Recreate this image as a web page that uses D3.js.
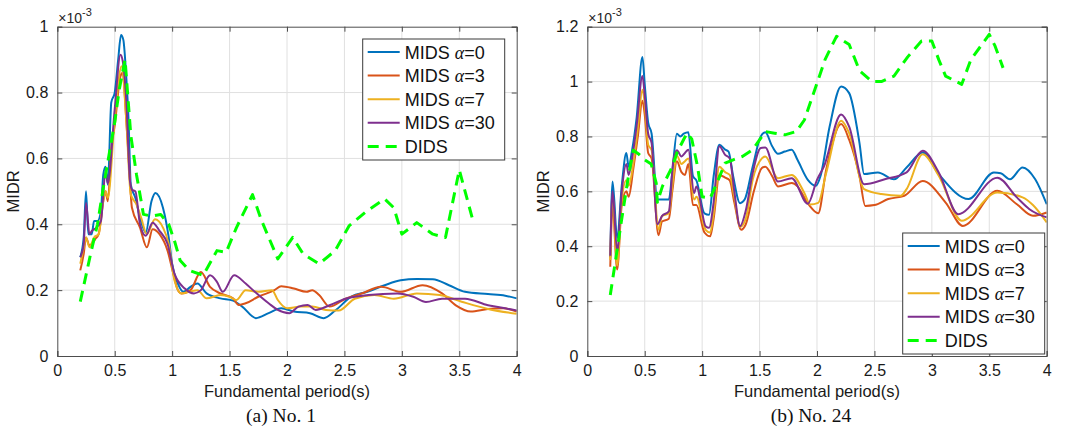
<!DOCTYPE html>
<html>
<head>
<meta charset="utf-8">
<script src="https://cdn.jsdelivr.net/npm/d3@7"></script>
<style>
  body { margin: 0; background: #fff; }
  svg { display: block; }
</style>
</head>
<body>
<div id="chart"></div>
<script>
// periods (s) and MIDR values (x10^-3)
const seriesNames = ['MIDS \u03b1=0', 'MIDS \u03b1=3', 'MIDS \u03b1=7', 'MIDS \u03b1=30', 'DIDS'];

// (a) No. 1
const a_alpha0 = [[0.2,0.30],[0.23,0.36],[0.25,0.50],[0.27,0.37],[0.3,0.37],[0.32,0.41],[0.35,0.41],[0.38,0.44],[0.40,0.55],[0.42,0.575],[0.44,0.52],[0.47,0.77],[0.5,0.80],[0.53,0.90],[0.555,0.975],[0.575,0.96],[0.6,0.85],[0.62,0.72],[0.64,0.52],[0.68,0.48],[0.72,0.42],[0.77,0.375],[0.82,0.47],[0.855,0.495],[0.92,0.45],[0.97,0.36],[1.0,0.28],[1.05,0.22],[1.1,0.195],[1.16,0.21],[1.22,0.22],[1.3,0.19],[1.42,0.175],[1.53,0.168],[1.61,0.15],[1.73,0.115],[1.84,0.13],[1.95,0.145],[2.06,0.135],[2.2,0.13],[2.32,0.115],[2.42,0.138],[2.56,0.18],[2.7,0.195],[2.85,0.215],[2.99,0.23],[3.13,0.234],[3.27,0.233],[3.41,0.215],[3.55,0.195],[3.75,0.188],[3.9,0.183],[4.0,0.175]];
const a_alpha3 = [[0.2,0.26],[0.23,0.31],[0.25,0.36],[0.28,0.335],[0.3,0.34],[0.33,0.355],[0.36,0.37],[0.4,0.47],[0.42,0.50],[0.44,0.47],[0.47,0.63],[0.5,0.70],[0.55,0.85],[0.57,0.86],[0.6,0.72],[0.625,0.58],[0.65,0.45],[0.72,0.39],[0.78,0.33],[0.83,0.385],[0.89,0.37],[0.96,0.32],[1.01,0.25],[1.05,0.20],[1.08,0.19],[1.16,0.20],[1.25,0.255],[1.33,0.21],[1.42,0.19],[1.53,0.175],[1.58,0.155],[1.64,0.16],[1.75,0.18],[1.89,0.20],[1.95,0.212],[2.06,0.205],[2.17,0.195],[2.22,0.2],[2.28,0.185],[2.37,0.15],[2.51,0.174],[2.65,0.19],[2.82,0.21],[2.99,0.195],[3.18,0.215],[3.35,0.19],[3.47,0.154],[3.6,0.135],[3.75,0.143],[3.88,0.145],[4.0,0.135]];
const a_alpha7 = [[0.2,0.28],[0.23,0.33],[0.25,0.36],[0.28,0.33],[0.32,0.36],[0.36,0.37],[0.4,0.47],[0.42,0.50],[0.44,0.48],[0.5,0.72],[0.56,0.88],[0.6,0.72],[0.64,0.49],[0.69,0.46],[0.73,0.42],[0.78,0.37],[0.85,0.415],[0.92,0.39],[0.97,0.34],[1.02,0.23],[1.08,0.19],[1.15,0.195],[1.22,0.20],[1.3,0.175],[1.42,0.185],[1.5,0.18],[1.56,0.17],[1.64,0.2],[1.75,0.195],[1.87,0.2],[1.92,0.17],[2.0,0.145],[2.12,0.15],[2.22,0.15],[2.34,0.14],[2.45,0.138],[2.59,0.174],[2.76,0.185],[2.93,0.174],[3.13,0.19],[3.33,0.185],[3.52,0.165],[3.75,0.143],[4.0,0.128]];
const a_alpha30 = [[0.2,0.30],[0.23,0.34],[0.25,0.465],[0.28,0.37],[0.3,0.38],[0.34,0.39],[0.38,0.41],[0.42,0.56],[0.44,0.525],[0.5,0.75],[0.55,0.915],[0.57,0.895],[0.6,0.78],[0.633,0.53],[0.65,0.505],[0.68,0.50],[0.72,0.40],[0.77,0.365],[0.83,0.405],[0.89,0.38],[0.96,0.34],[1.02,0.25],[1.11,0.205],[1.19,0.19],[1.25,0.2],[1.33,0.245],[1.39,0.225],[1.44,0.195],[1.54,0.245],[1.64,0.22],[1.72,0.195],[1.84,0.16],[1.92,0.14],[2.02,0.13],[2.1,0.15],[2.18,0.155],[2.25,0.14],[2.37,0.154],[2.51,0.174],[2.71,0.185],[2.96,0.19],[3.1,0.18],[3.21,0.164],[3.35,0.174],[3.55,0.174],[3.75,0.154],[3.9,0.145],[4.0,0.138]];
const a_dids = [[0.2,0.165],[0.29,0.31],[0.35,0.40],[0.40,0.51],[0.44,0.59],[0.5,0.71],[0.54,0.81],[0.59,0.90],[0.64,0.67],[0.69,0.55],[0.75,0.43],[0.82,0.425],[0.9,0.43],[0.97,0.40],[1.02,0.35],[1.07,0.29],[1.15,0.26],[1.27,0.245],[1.39,0.32],[1.47,0.315],[1.56,0.39],[1.7,0.49],[1.78,0.41],[1.92,0.295],[2.05,0.36],[2.14,0.31],[2.28,0.28],[2.42,0.32],[2.54,0.395],[2.68,0.436],[2.85,0.477],[2.93,0.45],[3.0,0.37],[3.13,0.405],[3.27,0.37],[3.38,0.36],[3.5,0.565],[3.62,0.41]];

// (b) No. 24
const b_alpha0 = [[0.2,0.36],[0.22,0.636],[0.26,0.43],[0.3,0.62],[0.34,0.74],[0.36,0.69],[0.39,0.75],[0.43,0.87],[0.48,1.09],[0.5,0.99],[0.53,0.85],[0.56,0.81],[0.61,0.57],[0.65,0.57],[0.71,0.57],[0.74,0.67],[0.78,0.81],[0.81,0.80],[0.84,0.81],[0.88,0.815],[0.92,0.655],[0.95,0.64],[1.02,0.52],[1.06,0.515],[1.1,0.655],[1.15,0.77],[1.2,0.752],[1.23,0.745],[1.27,0.655],[1.33,0.557],[1.37,0.57],[1.44,0.69],[1.51,0.80],[1.55,0.815],[1.61,0.764],[1.66,0.737],[1.72,0.745],[1.78,0.752],[1.83,0.715],[1.92,0.642],[1.99,0.62],[2.03,0.655],[2.11,0.836],[2.21,0.982],[2.28,0.958],[2.37,0.776],[2.41,0.663],[2.53,0.669],[2.67,0.644],[2.78,0.687],[2.92,0.742],[3.06,0.663],[3.32,0.572],[3.54,0.669],[3.6,0.666],[3.68,0.644],[3.79,0.687],[3.9,0.644],[4.0,0.553]];
const b_alpha3 = [[0.2,0.325],[0.22,0.55],[0.26,0.315],[0.3,0.55],[0.34,0.60],[0.36,0.58],[0.4,0.68],[0.44,0.80],[0.48,0.93],[0.5,0.88],[0.53,0.74],[0.56,0.72],[0.62,0.44],[0.65,0.49],[0.71,0.50],[0.74,0.60],[0.78,0.71],[0.82,0.67],[0.85,0.66],[0.88,0.70],[0.92,0.55],[0.95,0.55],[1.02,0.45],[1.07,0.436],[1.1,0.50],[1.15,0.66],[1.2,0.65],[1.24,0.64],[1.28,0.56],[1.34,0.46],[1.38,0.48],[1.45,0.6],[1.52,0.685],[1.55,0.69],[1.61,0.655],[1.66,0.618],[1.78,0.63],[1.83,0.618],[1.9,0.57],[1.94,0.545],[2.01,0.52],[2.08,0.679],[2.21,0.845],[2.28,0.788],[2.37,0.655],[2.42,0.547],[2.5,0.55],[2.62,0.572],[2.76,0.584],[2.92,0.638],[3.12,0.559],[3.27,0.474],[3.57,0.602],[3.74,0.553],[3.88,0.511],[4.0,0.523]];
const b_alpha7 = [[0.2,0.35],[0.22,0.58],[0.26,0.33],[0.3,0.57],[0.34,0.64],[0.36,0.62],[0.4,0.70],[0.44,0.83],[0.48,0.97],[0.5,0.92],[0.53,0.77],[0.56,0.75],[0.62,0.46],[0.65,0.51],[0.71,0.52],[0.74,0.62],[0.78,0.73],[0.82,0.70],[0.85,0.71],[0.88,0.72],[0.93,0.57],[0.95,0.58],[1.03,0.46],[1.07,0.45],[1.1,0.52],[1.15,0.69],[1.2,0.67],[1.24,0.66],[1.28,0.58],[1.33,0.47],[1.38,0.50],[1.44,0.642],[1.52,0.72],[1.55,0.727],[1.66,0.648],[1.78,0.66],[1.89,0.594],[1.94,0.552],[2.01,0.558],[2.08,0.667],[2.21,0.857],[2.28,0.812],[2.41,0.608],[2.56,0.59],[2.73,0.584],[2.78,0.608],[2.92,0.735],[3.06,0.657],[3.26,0.493],[3.57,0.596],[3.79,0.578],[3.88,0.55],[4.0,0.487]];
const b_alpha30 = [[0.2,0.365],[0.22,0.60],[0.26,0.38],[0.3,0.60],[0.34,0.70],[0.36,0.66],[0.39,0.72],[0.43,0.84],[0.48,1.02],[0.5,0.95],[0.53,0.81],[0.56,0.776],[0.61,0.48],[0.65,0.51],[0.71,0.527],[0.75,0.715],[0.78,0.75],[0.82,0.727],[0.85,0.74],[0.88,0.752],[0.93,0.594],[0.95,0.618],[1.03,0.473],[1.06,0.467],[1.1,0.56],[1.15,0.764],[1.2,0.733],[1.24,0.72],[1.28,0.6],[1.33,0.473],[1.38,0.53],[1.44,0.667],[1.51,0.758],[1.55,0.76],[1.66,0.636],[1.78,0.648],[1.92,0.555],[2.0,0.642],[2.06,0.69],[2.21,0.88],[2.28,0.836],[2.41,0.626],[2.59,0.644],[2.78,0.669],[2.92,0.748],[3.06,0.669],[3.23,0.517],[3.57,0.65],[3.74,0.578],[3.85,0.535],[4.0,0.505]];
const b_dids = [[0.2,0.222],[0.25,0.36],[0.3,0.50],[0.36,0.66],[0.4,0.75],[0.45,0.735],[0.5,0.715],[0.556,0.70],[0.6,0.63],[0.61,0.56],[0.654,0.618],[0.74,0.69],[0.78,0.74],[0.84,0.79],[0.87,0.812],[0.91,0.79],[0.96,0.69],[1.0,0.58],[1.07,0.575],[1.14,0.642],[1.2,0.703],[1.27,0.715],[1.35,0.727],[1.44,0.752],[1.55,0.818],[1.63,0.812],[1.72,0.806],[1.82,0.818],[1.89,0.86],[2.0,0.994],[2.07,1.08],[2.17,1.165],[2.28,1.135],[2.37,1.04],[2.48,1.0],[2.56,1.0],[2.67,1.02],[2.79,1.09],[2.91,1.148],[3.0,1.148],[3.06,1.08],[3.12,1.02],[3.26,0.99],[3.34,1.08],[3.5,1.172],[3.55,1.13],[3.62,1.05]];

const xTicks = [0, 0.5, 1, 1.5, 2, 2.5, 3, 3.5, 4];
const aYTicks = [0, 0.2, 0.4, 0.6, 0.8, 1];
const bYTicks = [0, 0.2, 0.4, 0.6, 0.8, 1, 1.2];

const colors = ['#0072BD', '#D95319', '#EDB120', '#7E2F8E', '#00FF00'];

const W = 1069, H = 427;
const sans = '"Liberation Sans", Arial, sans-serif';
const svg = d3.select('#chart').append('svg').attr('width', W).attr('height', H);

function drawPanel(cfg) {
  const width = 459.4, height = 329.3;
  const g = svg.append('g').attr('transform', 'translate(' + cfg.left + ',' + 26.7 + ')');

  const x = d3.scaleLinear().domain([0, 4]).range([0, width]);
  const y = d3.scaleLinear().domain([0, cfg.yMax]).range([height, 0]);

  // grid
  g.append('g').selectAll('line').data(xTicks.slice(1, -1)).join('line')
    .attr('x1', d => x(d)).attr('x2', d => x(d)).attr('y1', 0).attr('y2', height)
    .attr('stroke', '#e0e0e0').attr('stroke-width', 1);
  g.append('g').selectAll('line').data(cfg.yTicks.slice(1, -1)).join('line')
    .attr('y1', d => y(d)).attr('y2', d => y(d)).attr('x1', 0).attr('x2', width)
    .attr('stroke', '#e0e0e0').attr('stroke-width', 1);

  // lines
  const clipId = 'clip' + cfg.id;
  g.append('clipPath').attr('id', clipId).append('rect')
    .attr('width', width).attr('height', height);
  const smooth = d3.line().x(d => x(d[0])).y(d => y(d[1])).curve(d3.curveMonotoneX);
  const straight = d3.line().x(d => x(d[0])).y(d => y(d[1]));
  const plot = g.append('g').attr('clip-path', 'url(#' + clipId + ')');
  cfg.series.forEach((s, i) => {
    const dashed = i === 4;
    plot.append('path')
      .datum(s)
      .attr('d', dashed ? straight : smooth)
      .attr('fill', 'none')
      .attr('stroke', colors[i])
      .attr('stroke-width', dashed ? 3 : 2)
      .attr('stroke-dasharray', dashed ? '11,7' : null)
      .attr('stroke-linejoin', 'round');
  });

  // axes (box with inward ticks)
  const axisStyle = sel => {
    sel.select('.domain').attr('stroke', '#4d4d4d');
    sel.selectAll('.tick line').attr('stroke', '#4d4d4d');
    sel.selectAll('.tick text').attr('fill', '#1a1a1a')
      .style('font-family', sans).style('font-size', '16px');
  };
  g.append('g').attr('transform', 'translate(0,' + height + ')')
    .call(d3.axisBottom(x).tickValues(xTicks).tickSize(-5).tickPadding(9).tickFormat(d3.format('~g')))
    .call(axisStyle);
  g.append('g')
    .call(d3.axisTop(x).tickValues(xTicks).tickSize(-5).tickFormat(''))
    .call(axisStyle);
  g.append('g')
    .call(d3.axisLeft(y).tickValues(cfg.yTicks).tickSize(-5).tickPadding(9).tickFormat(d3.format('~g')))
    .call(axisStyle);
  g.append('g').attr('transform', 'translate(' + width + ',0)')
    .call(d3.axisRight(y).tickValues(cfg.yTicks).tickSize(-5).tickFormat(''))
    .call(axisStyle);

  // exponent label
  const ex = g.append('text').attr('x', 1).attr('y', -4)
    .attr('fill', '#262626')
    .style('font-family', sans).style('font-size', '14px');
  ex.append('tspan').text('\u00d710');
  ex.append('tspan').attr('dy', -7).style('font-size', '11px').text('-3');

  // axis labels
  g.append('text')
    .attr('transform', 'translate(' + (-38) + ',' + (height / 2) + ') rotate(-90)')
    .attr('text-anchor', 'middle')
    .attr('fill', '#1a1a1a')
    .style('font-family', sans).style('font-size', '16.5px')
    .text('MIDR');
  g.append('text')
    .attr('x', width / 2).attr('y', height + 41)
    .attr('text-anchor', 'middle')
    .attr('fill', '#1a1a1a')
    .style('font-family', sans).style('font-size', '16.5px')
    .text('Fundamental period(s)');
  g.append('text')
    .attr('x', width / 2 - 6).attr('y', height + 66)
    .attr('text-anchor', 'middle')
    .attr('fill', '#111')
    .style('font-family', '"Liberation Serif", "Times New Roman", serif').style('font-size', '19.5px')
    .text(cfg.caption);

  // legend
  const lg = g.append('g').attr('transform', 'translate(' + cfg.legend[0] + ',' + cfg.legend[1] + ')');
  lg.append('rect').attr('width', 142).attr('height', 121)
    .attr('fill', '#fff').attr('stroke', '#3a3a3a').attr('stroke-width', 1);
  seriesNames.forEach((name, i) => {
    const yy = 13 + i * 23.6;
    lg.append('line').attr('x1', 5).attr('x2', 37).attr('y1', yy).attr('y2', yy)
      .attr('stroke', colors[i]).attr('stroke-width', i === 4 ? 3 : 2)
      .attr('stroke-dasharray', i === 4 ? '11,7' : null);
    const t = lg.append('text').attr('x', 42).attr('y', yy + 6.5)
      .attr('fill', '#111')
      .style('font-family', sans).style('font-size', '18px');
    if (i < 4) {
      const parts = name.split('\u03b1');
      t.append('tspan').text(parts[0]);
      t.append('tspan').style('font-family', '"Liberation Serif", "DejaVu Serif", serif')
        .style('font-style', 'italic').text('\u03b1');
      t.append('tspan').text(parts[1]);
    } else {
      t.text(name);
    }
  });
}

drawPanel({
  id: 'a', left: 57.3, yMax: 1, yTicks: aYTicks, caption: '(a) No. 1',
  series: [a_alpha0, a_alpha3, a_alpha7, a_alpha30, a_dids],
  legend: [305.4, 12.3]
});
drawPanel({
  id: 'b', left: 587.3, yMax: 1.2, yTicks: bYTicks, caption: '(b) No. 24',
  series: [b_alpha0, b_alpha3, b_alpha7, b_alpha30, b_dids],
  legend: [315.4, 206.3]
});
</script>
</body>
</html>
